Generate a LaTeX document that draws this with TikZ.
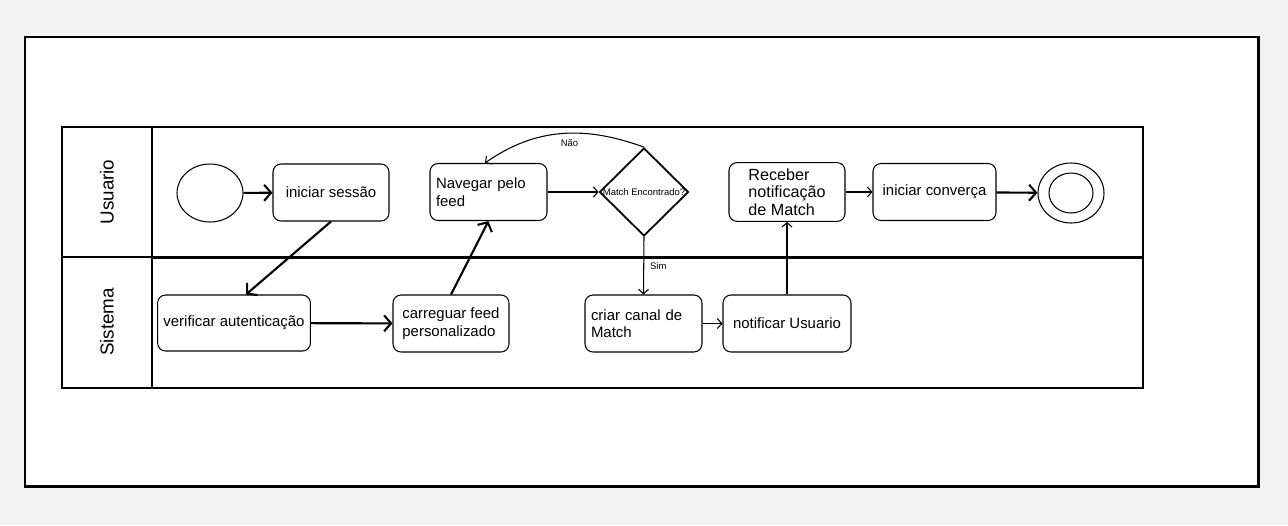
\documentclass[tikz,border=0pt]{standalone}
\usepackage{fontspec}
\setmainfont{Liberation Sans}
\usepackage{tikz}
\usetikzlibrary{shapes.geometric,arrows.meta}

\begin{document}
\begin{tikzpicture}[x=0.02cm,y=-0.02cm,
    box/.style={draw, rounded corners=0.16cm, minimum width=2.32cm, minimum height=1.14cm, line width=0.6pt, font=\fontsize{8.5}{10}\selectfont},
    flow/.style={-{Straight Barb[length=0.09cm,width=0.2cm]}, line width=0.6pt},
    bigflow/.style={-{Straight Barb[length=0.14cm,width=0.32cm]}, line width=1.2pt},
    lane/.style={rotate=90, font=\fontsize{10.7}{12}\selectfont},
    small/.style={font=\fontsize{5.4}{6}\selectfont}]

    % Draw background and frame
    \fill[black!5] (0,0) rectangle (1288,525);
    \draw[line width=1.7pt, fill=white] (25,37) rectangle (1258,486);

    % Draw lanes
    \draw[line width=0.8pt] (62,127) rectangle (1143,388);
    \draw[line width=0.8pt] (62,257) -- (152,257);
    \draw[line width=1.7pt] (152,257) -- (1143,257);
    \draw[line width=1.7pt] (152,127) -- (152,388);
    \node[lane] (usr) at (107,192) {Usuario};
    \node[lane] (sys) at (107,322) {Sistema};

    % Usuario lane
    \node[draw, ellipse, minimum width=1.32cm, minimum height=1.16cm, line width=0.6pt] (start) at (210,193) {};
    \node[box] (ini) at (331,192.5) {iniciar sessão};
    \node[box, minimum width=2.34cm, text width=2.1cm, align=left] (nav) at (488.5,192) {Navegar pelo\\feed};
    \node[draw, diamond, minimum width=1.78cm, minimum height=1.76cm, inner sep=0pt, line width=1pt,
        label={[small]center:Match Encontrado?}] (dec) at (644,192) {};
    \node[box, align=left, font=\fontsize{9.2}{10}\selectfont] (rec) at (787,192) {Receber\\notificação\\de Match};
    \node[box, minimum width=2.46cm] (conv) at (934.5,192) {iniciar converça};
    \node[draw, ellipse, minimum width=1.32cm, minimum height=1.2cm, line width=0.6pt] (fim) at (1071,193) {};
    \node[draw, ellipse, minimum width=0.88cm, minimum height=0.8cm, line width=0.6pt] (fimin) at (1071,193) {};

    % Sistema lane
    \node[box, minimum width=2.96cm, minimum height=1.12cm] (ver) at (234,323) {verificar autenticação};
    \node[box, align=left] (feed) at (451,323.5) {carreguar feed\\personalizado};
    \node[box, minimum width=2.34cm, text width=2.1cm, align=left] (canal) at (643.5,323.5) {criar canal de\\Match};
    \node[box, minimum width=2.56cm] (notif) at (787,323.5) {notificar Usuario};

    % Draw arrows
    \draw[bigflow] (start) -- (ini);
    \draw[bigflow] (ini.south) -- ([xshift=0.24cm]ver.north);
    \draw[bigflow] (ver) -- (feed);
    \draw[bigflow] (feed.north) -- (nav.south);
    \draw[flow] (nav) -- (dec);
    \draw[flow] (dec.north) to[out=160, in=35] node[pos=0.45, below, small] {Não} ([xshift=-0.07cm]nav.north);
    \draw[flow] (dec.south) -- node[right, small] {Sim} (canal.north);
    \draw[flow] (canal) -- (notif);
    \draw[flow] (notif.north) -- (rec.south);
    \draw[flow] (rec) -- (conv);
    \draw[bigflow] (conv) -- (fim);
\end{tikzpicture}
\end{document}
